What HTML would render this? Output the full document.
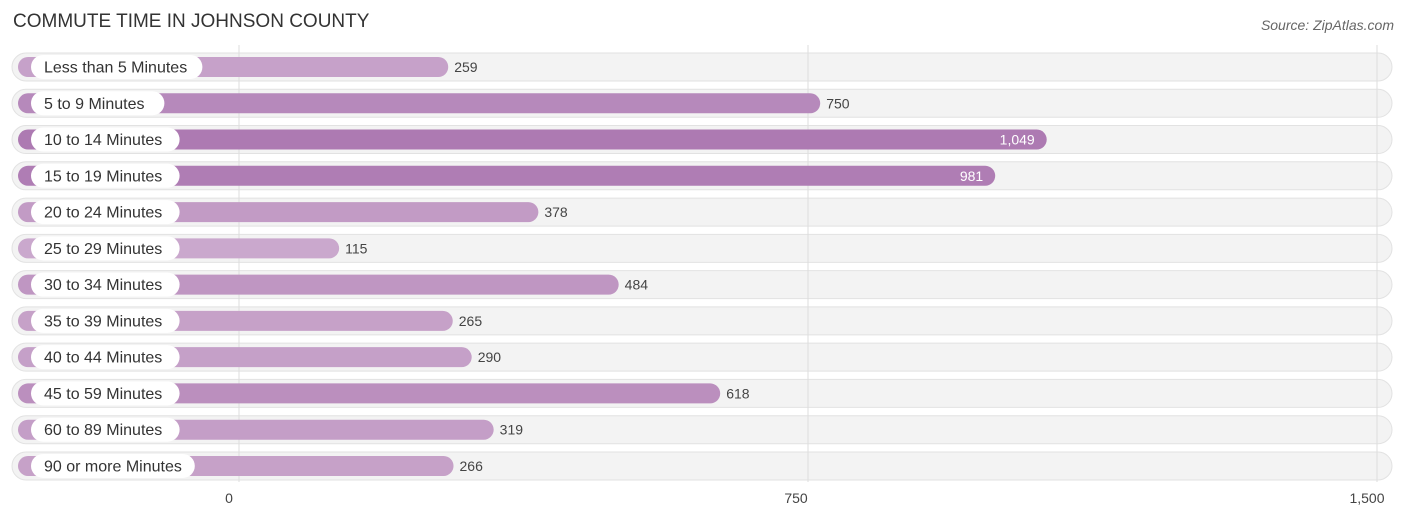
<!DOCTYPE html>
<html><head><meta charset="utf-8"><style>
body{margin:0;background:#fff;font-family:"Liberation Sans",sans-serif}
svg{display:block}
</style></head><body>
<svg width="1406" height="522">
<text x="13" y="27" font-size="19" fill="#333">COMMUTE TIME IN JOHNSON COUNTY</text>
<text x="1394" y="30" font-size="14" font-style="italic" fill="#666" text-anchor="end">Source: ZipAtlas.com</text>
<g id="grid"></g>
<g id="rows"></g>
<g id="ticks"></g>
</svg>
<script>
const categories=["Less than 5 Minutes","5 to 9 Minutes","10 to 14 Minutes","15 to 19 Minutes","20 to 24 Minutes","25 to 29 Minutes","30 to 34 Minutes","35 to 39 Minutes","40 to 44 Minutes","45 to 59 Minutes","60 to 89 Minutes","90 or more Minutes"];
const values=[259,750,1049,981,378,115,484,265,290,618,319,266];
const tickValues=[0,750,1500];
const tickLabels=["0","750","1,500"];
const NS="http://www.w3.org/2000/svg";
function gx(v){return 239+v*(1138/1500);}
function bx(v){return 252+v*0.7576;}
function rowY(i){return 67+i*36.27;}
function mk(tag,attrs,parent){const e=document.createElementNS(NS,tag);for(const k in attrs)e.setAttribute(k,attrs[k]);parent.appendChild(e);return e;}
function col(v){const t=Math.min(1,v/1049);const a=[0xce,0xae,0xd0],b=[0xad,0x7a,0xb2];return "rgb("+a.map((c,i)=>Math.round(c+(b[i]-c)*t)).join(",")+")";}
const grid=document.getElementById('grid'),rows=document.getElementById('rows'),ticks=document.getElementById('ticks');
categories.forEach((c,i)=>{
 const y=rowY(i);
 const bg=mk('rect',{x:12,y:y-14,width:1380,height:28,rx:14,fill:'#f3f3f3',stroke:'#e2e2e2','stroke-width':1},rows);
 
 
});
tickValues.forEach((v,i)=>{
 const l=mk('line',{x1:gx(v),x2:gx(v),y1:45,y2:482,stroke:'#ddd','stroke-width':1},rows);
 
 
 const t=mk('text',{x:gx(v)-(i==0?10:i==2?10:12),y:503,'font-size':14,fill:'#444','text-anchor':'middle'},ticks);
 t.textContent=tickLabels[i];
 
 
});
categories.forEach((c,i)=>{
 const y=rowY(i),v=values[i];
 const bar=mk('rect',{x:18,y:y-10,width:bx(v)-18,height:20,rx:10,fill:col(v)},rows);
 
 
 const pw=c.length*7.6+27;
 const pill=mk('rect',{x:31,y:y-12,width:pw,height:24,rx:12,fill:'#fff'},rows);
 
 
 const lt=mk('text',{x:44,y:y+5.5,'font-size':16,fill:'#333'},rows);
 lt.textContent=c;
 
 
 const inside=v>900;
 const vt=mk('text',{x:inside?bx(v)-12:bx(v)+6,y:y+5,'font-size':14,fill:inside?'#fff':'#444','text-anchor':inside?'end':'start'},rows);
 vt.textContent=v.toLocaleString('en-US');
 
 
});
</script>
</body></html>
